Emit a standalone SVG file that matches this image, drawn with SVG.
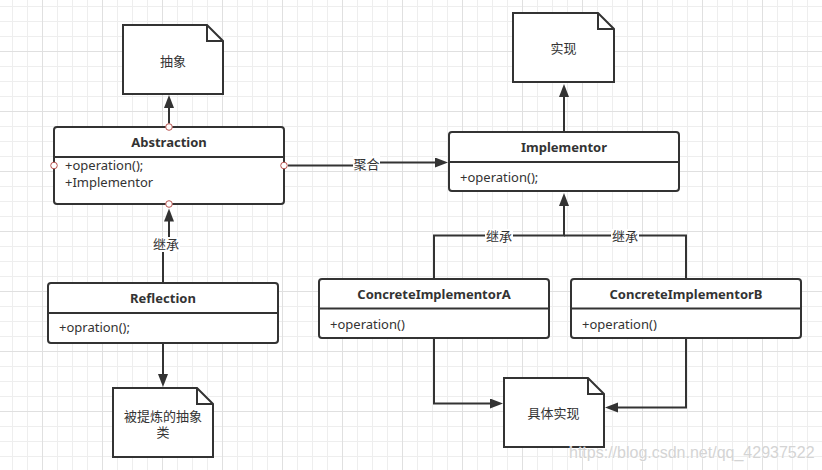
<svg xmlns="http://www.w3.org/2000/svg" width="822" height="470" viewBox="0 0 822 470">
<defs>
<pattern id="gMinor" patternUnits="userSpaceOnUse" x="12" y="6" width="15" height="15">
<path d="M0.5,0 V15 M0,0.5 H15" stroke="#eeeeee" stroke-width="1" fill="none"/>
</pattern>
<pattern id="gMajor" patternUnits="userSpaceOnUse" x="42" y="51" width="60" height="60">
<path d="M0.5,0 V60 M0,0.5 H60" stroke="#e0e0e0" stroke-width="1" fill="none"/>
</pattern>
<marker id="arr" markerUnits="userSpaceOnUse" markerWidth="14" markerHeight="12" refX="7" refY="5" orient="auto">
<path d="M0,0 L13,5 L0,10 Z" fill="#333333"/>
</marker>
</defs>
<style>
.box{fill:#ffffff;stroke:#333333;stroke-width:2}
.sep{stroke:#333333;stroke-width:2}
.note{fill:#ffffff;stroke:#333333;stroke-width:2;stroke-linejoin:miter}
.fold{fill:none;stroke:#333333;stroke-width:2}
.edge{fill:none;stroke:#333333;stroke-width:2;marker-end:url(#arr)}
.line{fill:none;stroke:#333333;stroke-width:2}
.title{font-family:"Noto Sans","Noto Sans CJK SC",sans-serif;font-size:13px;font-weight:bold;fill:#333333;text-anchor:middle}
.attr{font-family:"Noto Sans","Noto Sans CJK SC",sans-serif;font-size:13px;fill:#333333}
.cjk{font-family:"Noto Sans CJK SC","Noto Sans",sans-serif;font-size:13px;fill:#333333;text-anchor:middle}
.lbl{fill:#ffffff}
.port{fill:#ffffff;stroke:#b85450;stroke-width:1}
.wm{font-family:"Liberation Sans",Arial,sans-serif;font-size:16px;fill:#d4d4d4;stroke:#ffffff;stroke-width:0.6;paint-order:stroke}
</style>
<rect width="822" height="470" fill="#ffffff"/>
<rect width="822" height="470" fill="url(#gMinor)"/>
<rect width="822" height="470" fill="url(#gMajor)"/>

<g id="connectors">
<path class="edge" d="M169,123.5 V101"/>
<path class="edge" d="M288,165.5 H366 V162.5 H442"/>
<path class="edge" d="M163,283 V244 H169 V214.5"/>
<path class="edge" d="M163,343 V381"/>
<path class="edge" d="M564,132 V90"/>
<path class="edge" d="M434,279 V235.5 H564 V199"/>
<path class="line" d="M686,279 V235.5 H564"/>
<path class="edge" d="M434,338 V403.5 H497"/>
<path class="edge" d="M686,338 V407.5 H611"/>
<rect class="lbl" x="353" y="156" width="27" height="15"/>
<text class="cjk" x="366.5" y="168.5">聚合</text>
<rect class="lbl" x="152" y="237" width="28" height="15"/>
<text class="cjk" x="166" y="249">继承</text>
<rect class="lbl" x="485" y="229" width="28" height="13"/>
<text class="cjk" x="499" y="240.5">继承</text>
<rect class="lbl" x="611" y="229" width="28" height="13"/>
<text class="cjk" x="625" y="240.5">继承</text>
</g>

<g id="note-abstract">
<path class="note" d="M123,25 H207 L223,41 V94 H123 Z"/>
<path class="fold" d="M207,25 V41 H223"/>
<text class="cjk" x="173" y="65.5">抽象</text>
</g>

<g id="abstraction">
<rect class="box" x="54" y="127" width="230" height="77" rx="3"/>
<line class="sep" x1="54" y1="157" x2="284" y2="157"/>
<text class="title" x="169" y="147">Abstraction</text>
<text class="attr" x="65" y="170">+operation();</text>
<text class="attr" x="65" y="186.5">+Implementor</text>
<circle class="port" cx="169" cy="127" r="3.3"/>
<circle class="port" cx="54" cy="165.5" r="3.3"/>
<circle class="port" cx="284" cy="165.5" r="3.3"/>
<circle class="port" cx="169" cy="204" r="3.3"/>
</g>

<g id="reflection">
<rect class="box" x="48" y="283" width="230" height="60" rx="3"/>
<line class="sep" x1="48" y1="313" x2="278" y2="313"/>
<text class="title" x="163" y="303">Reflection</text>
<text class="attr" x="59" y="332">+opration();</text>
</g>

<g id="note-refined">
<path class="note" d="M113,388 H197 L213,404 V457 H113 Z"/>
<path class="fold" d="M197,388 V404 H213"/>
<text class="cjk"><tspan x="163" y="420.5">被提炼的抽象</tspan><tspan x="163" y="436.5">类</tspan></text>
</g>

<g id="note-impl">
<path class="note" d="M513,13 H598 L614,29 V82 H513 Z"/>
<path class="fold" d="M598,13 V29 H614"/>
<text class="cjk" x="563.5" y="53">实现</text>
</g>

<g id="implementor">
<rect class="box" x="449" y="132" width="230" height="59" rx="3"/>
<line class="sep" x1="449" y1="162" x2="679" y2="162"/>
<text class="title" x="564" y="152">Implementor</text>
<text class="attr" x="460" y="181.5">+operation();</text>
</g>

<g id="concreteA">
<rect class="box" x="319" y="279" width="230" height="59" rx="3"/>
<line class="sep" x1="319" y1="308.5" x2="549" y2="308.5"/>
<text class="title" x="434" y="299">ConcreteImplementorA</text>
<text class="attr" x="330" y="329">+operation()</text>
</g>

<g id="concreteB">
<rect class="box" x="571" y="279" width="230" height="59" rx="3"/>
<line class="sep" x1="571" y1="308.5" x2="801" y2="308.5"/>
<text class="title" x="686" y="299">ConcreteImplementorB</text>
<text class="attr" x="582" y="329">+operation()</text>
</g>

<g id="note-concrete">
<path class="note" d="M504,378 H588 L604,394 V447 H504 Z"/>
<path class="fold" d="M588,378 V394 H604"/>
<text class="cjk" x="553.5" y="418">具体实现</text>
</g>

<text class="wm" x="569" y="458">https://blog.csdn.net/qq_42937522</text>
</svg>
